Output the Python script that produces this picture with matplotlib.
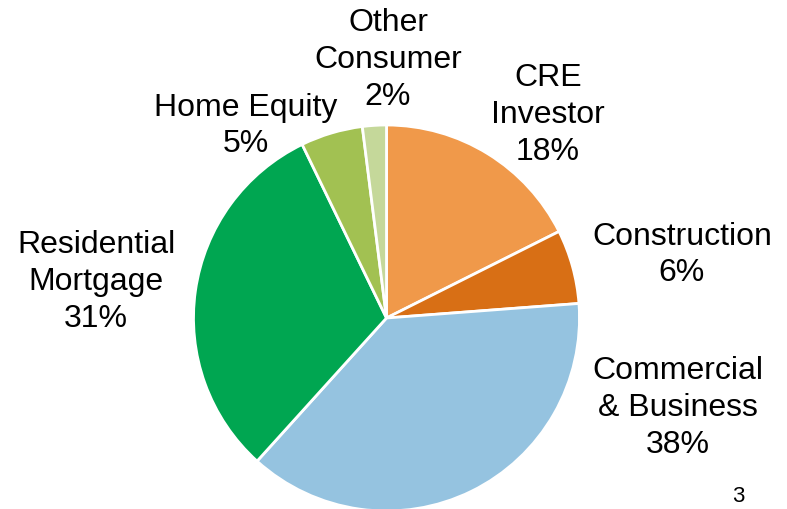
import matplotlib
matplotlib.use("Agg")
import matplotlib.pyplot as plt

categories = ["CRE\nInvestor", "Construction", "Commercial\n& Business",
              "Residential\nMortgage", "Home Equity", "Other\nConsumer"]
values = [17.6, 6.2, 37.9, 31.1, 5.2, 2.0]
colors = ["#F0994A", "#D86F15", "#95C3E0", "#00A651", "#A2C152", "#C5D89A"]
# label centers in pixel coordinates (x, y from top)
label_pos = [(548, 115), (682, 255), (678, 408), (96, 282), (246, 126), (388, 60)]

plt.rcParams['font.family'] = ['Liberation Sans', 'DejaVu Sans']
W, H = 787, 509
fig = plt.figure(figsize=(W / 100, H / 100), dpi=100)
ax = fig.add_axes([0, 0, 1, 1])

ax.pie(values, colors=colors, startangle=90, counterclock=False,
       center=(386.5, H - 318), radius=193, frame=True,
       wedgeprops=dict(edgecolor="white", linewidth=2))
ax.set_xlim(0, W)
ax.set_ylim(0, H)
ax.axis("off")

for cat, v, (x, y) in zip(categories, values, label_pos):
    ax.text(x, H - y, f"{cat}\n{round(v)}%", ha="center", va="center",
            fontsize=23, linespacing=1.3, color="black")

ax.text(738, H - 497, "3", ha="center", va="center", fontsize=16, color="black")

fig.savefig("out.png", dpi=100)
